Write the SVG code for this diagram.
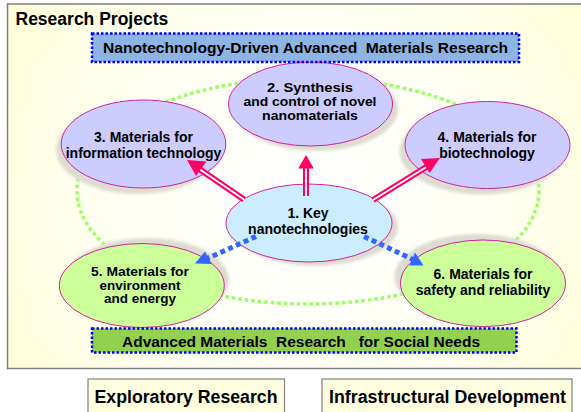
<svg xmlns="http://www.w3.org/2000/svg" width="581" height="412" viewBox="0 0 581 412">
<defs>
<radialGradient id="bg" cx="300" cy="200" r="330" gradientUnits="userSpaceOnUse">
<stop offset="0" stop-color="#FFFFFF"/>
<stop offset="0.55" stop-color="#FFFFF4"/>
<stop offset="1" stop-color="#FFFFDC"/>
</radialGradient>
<filter id="blur" x="-20%" y="-20%" width="140%" height="140%"><feGaussianBlur stdDeviation="1.5"/></filter>
</defs>
<style>
text{font-family:"Liberation Sans",Arial,sans-serif;font-weight:bold;fill:#000;}
.nt{font-size:14px;text-anchor:middle;}
.nt3{font-size:13.5px;text-anchor:middle;}
.ban{font-size:15.5px;text-anchor:middle;}
.big{font-size:17.5px;}
.shadow{fill:#DEDCD0;filter:url(#blur);}
.node{stroke:#D0259A;stroke-width:1;}
.lav{fill:#CCCCFF;}
.blu{fill:#CCECFF;}
.grn{fill:#CCFF99;}
.dotbox{stroke:#0000FF;stroke-width:2.5;stroke-dasharray:2.5 2;}
.pk{stroke:#FF0066;stroke-width:6;fill:none;}
.pkw{stroke:#FFFFFF;stroke-width:1.8;fill:none;}
.pkh{fill:#FF0066;}
.bl{stroke:#3366FF;stroke-width:5;stroke-dasharray:5 3.5;fill:none;}
.blh{fill:#3366FF;}
.sbox{fill:#FFFFE0;stroke:#808080;stroke-width:1.2;}
</style>

<rect x="7.5" y="4" width="600" height="364.5" fill="url(#bg)" stroke="#808080" stroke-width="1.5"/>
<text class="big" x="15.5" y="25">Research Projects</text>

<ellipse cx="308" cy="191" rx="231" ry="113" fill="none" stroke="#99FF66" stroke-width="3.5" stroke-dasharray="3.5 3"/>

<g id="node2">
<ellipse class="shadow" cx="316" cy="109" rx="82" ry="42"/>
<ellipse class="node lav" cx="310.5" cy="104" rx="82" ry="42"/>
<text class="nt3" x="310" y="91.5" textLength="86" lengthAdjust="spacingAndGlyphs">2. Synthesis</text>
<text class="nt3" x="310" y="105.8" textLength="133" lengthAdjust="spacingAndGlyphs">and control of novel</text>
<text class="nt3" x="310" y="120.3" textLength="96" lengthAdjust="spacingAndGlyphs">nanomaterials</text>
</g>

<g id="node3">
<ellipse class="shadow" cx="138" cy="150" rx="82" ry="44"/>
<ellipse class="node lav" cx="143.5" cy="144" rx="82.3" ry="44"/>
<text class="nt" x="143.5" y="141.5">3. Materials for</text>
<text class="nt" x="143.5" y="157.5">information technology</text>
</g>

<g id="node4">
<ellipse class="shadow" cx="482" cy="151" rx="82.5" ry="43.5"/>
<ellipse class="node lav" cx="487.5" cy="145" rx="82.5" ry="43.5"/>
<text class="nt" x="487" y="142">4. Materials for</text>
<text class="nt" x="487" y="158">biotechnology</text>
</g>

<g id="node1">
<ellipse class="shadow" cx="315" cy="227" rx="83" ry="39"/>
<ellipse class="node blu" cx="309" cy="223" rx="83" ry="39"/>
<text class="nt" x="308" y="218">1. Key</text>
<text class="nt" x="308" y="234">nanotechnologies</text>
</g>

<g id="node5">
<ellipse class="shadow" cx="147" cy="280" rx="82" ry="42"/>
<ellipse class="node grn" cx="141.8" cy="285.5" rx="82.5" ry="42"/>
<text class="nt3" x="140" y="276" textLength="98" lengthAdjust="spacingAndGlyphs">5. Materials for</text>
<text class="nt3" x="140" y="289.5">environment</text>
<text class="nt3" x="140" y="303">and energy</text>
</g>

<g id="node6">
<ellipse class="shadow" cx="477" cy="277" rx="82.5" ry="43"/>
<ellipse class="node grn" cx="483" cy="283.3" rx="82.5" ry="43.3"/>
<text class="nt" x="483" y="279">6. Materials for</text>
<text class="nt" x="483" y="294.5">safety and reliability</text>
</g>

<g id="banner-top">
<rect class="dotbox" x="92" y="33.5" width="427" height="28.5" fill="#8DB4E2"/>
<text class="ban" x="305.5" y="53.3" textLength="405" lengthAdjust="spacingAndGlyphs" xml:space="preserve">Nanotechnology-Driven Advanced  Materials Research</text>
</g>

<g id="banner-bottom">
<rect class="dotbox" x="92" y="328.5" width="424.5" height="24" fill="#92D050"/>
<text class="ban" x="301" y="346.5" textLength="358" lengthAdjust="spacingAndGlyphs" xml:space="preserve">Advanced Materials  Research   for Social Needs</text>
</g>

<g id="connectors">
<line class="pk" x1="306" y1="196" x2="306" y2="166"/>
<line class="pkw" x1="306" y1="196" x2="306" y2="166"/>
<polygon class="pkh" points="306,155 298.2,168.5 313.8,168.5"/>

<line class="pk" x1="244" y1="199.5" x2="200" y2="169.5"/>
<line class="pkw" x1="244" y1="199.5" x2="200" y2="169.5"/>
<polygon class="pkh" points="187,160 196,176 206.5,161.5"/>

<line class="pk" x1="373" y1="200" x2="428" y2="166"/>
<line class="pkw" x1="373" y1="200" x2="428" y2="166"/>
<polygon class="pkh" points="440,158 421,159 429.5,173"/>

<line class="bl" x1="256" y1="236.5" x2="207" y2="258.5"/>
<polygon class="blh" points="195,263.5 205,251.5 211.7,264"/>

<line class="bl" x1="364" y1="236.5" x2="413" y2="259.5"/>
<polygon class="blh" points="423.5,265.5 415,252.5 409.5,265.5"/>
</g>

<g id="box-exploratory">
<rect class="sbox" x="88" y="379" width="196.5" height="45"/>
<text class="big" x="94.5" y="402.5" textLength="183" lengthAdjust="spacingAndGlyphs">Exploratory Research</text>
</g>
<g id="box-infrastructural">
<rect class="sbox" x="322" y="379" width="250" height="45"/>
<text class="big" x="329" y="402.5" textLength="237" lengthAdjust="spacingAndGlyphs">Infrastructural Development</text>
</g>
</svg>
